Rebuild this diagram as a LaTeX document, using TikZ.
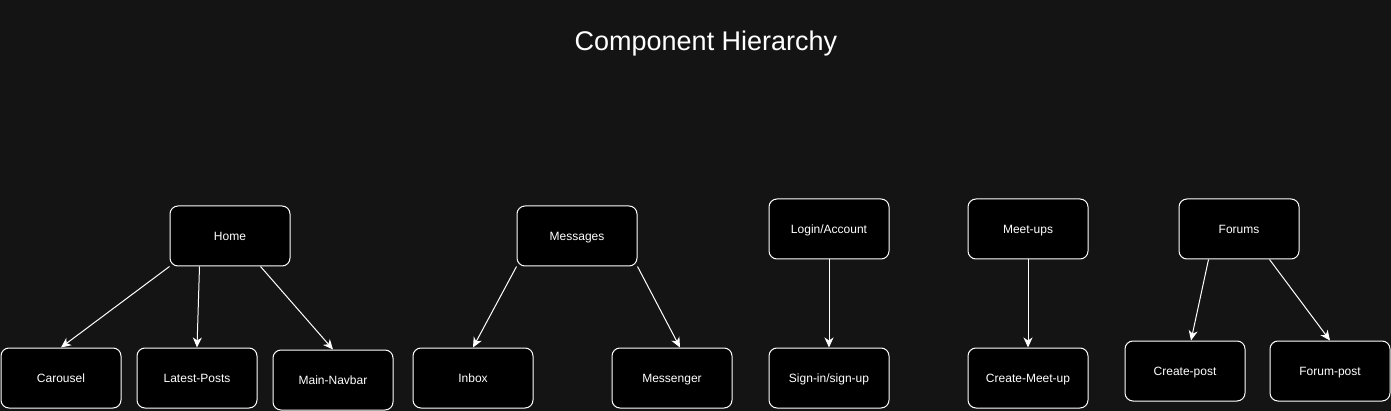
\documentclass[tikz,border=0pt]{standalone}
\usepackage{fontspec}
\setmainfont{Liberation Sans}
\usetikzlibrary{arrows.meta,positioning,calc}
\definecolor{canvas}{HTML}{141414}

\begin{document}
\begin{tikzpicture}[
    x=1pt, y=-1pt,
    comp/.style={rectangle, draw=white, fill=black, line width=1pt, rounded corners=8pt, minimum width=120pt, minimum height=60pt, inner sep=0pt, text height=9pt, text depth=0pt, align=center, text=white, font=\fontsize{12}{14}\selectfont},
    arr/.style={-{Stealth[length=10pt, width=9pt, inset=3pt]}, white, line width=1pt},
]

% Canvas
\useasboundingbox (0,0) rectangle (1391,411);
\fill[canvas] (0,0) rectangle (1391,411);

% Title
\node[text=white, font=\fontsize{27}{32}\selectfont] (title) at (706,44) {Component Hierarchy};

% Top level components
\node[comp] (home) at (230,236) {Home};
\node[comp] (messages) at (577,236) {Messages};
\node[comp] (login) at (829,229) {Login/Account};
\node[comp] (meetups) at (1028,229) {Meet-ups};
\node[comp] (forums) at (1239,229) {Forums};

% Children
\node[comp] (carousel) at (61,378) {Carousel};
\node[comp] (latest) at (197,378) {Latest-Posts};
\node[comp] (navbar) at (333,380) {Main-Navbar};
\node[comp] (inbox) at (473,378) {Inbox};
\node[comp] (messenger) at (672,378) {Messenger};
\node[comp] (signin) at (829,378) {Sign-in/sign-up};
\node[comp] (createmeet) at (1028,378) {Create-Meet-up};
\node[comp] (createpost) at (1185,371) {Create-post};
\node[comp] (forumpost) at (1330,371) {Forum-post};

% Home
\draw[arr] (home.south west) -- (carousel.north);
\draw[arr] (home.-135) -- (latest.north);
\draw[arr] (home.-45) -- (navbar.north);

% Messages
\draw[arr] (messages.south west) -- (inbox.north);
\draw[arr] (messages.south east) -- ($(messenger.north)+(8,0)$);

% Login and meet-ups
\draw[arr] (login.south) -- (signin.north);
\draw[arr] (meetups.south) -- (createmeet.north);

% Forums
\draw[arr] (forums.-135) -- ($(createpost.north)+(6,0)$);
\draw[arr] (forums.-45) -- (forumpost.north);

\end{tikzpicture}
\end{document}
